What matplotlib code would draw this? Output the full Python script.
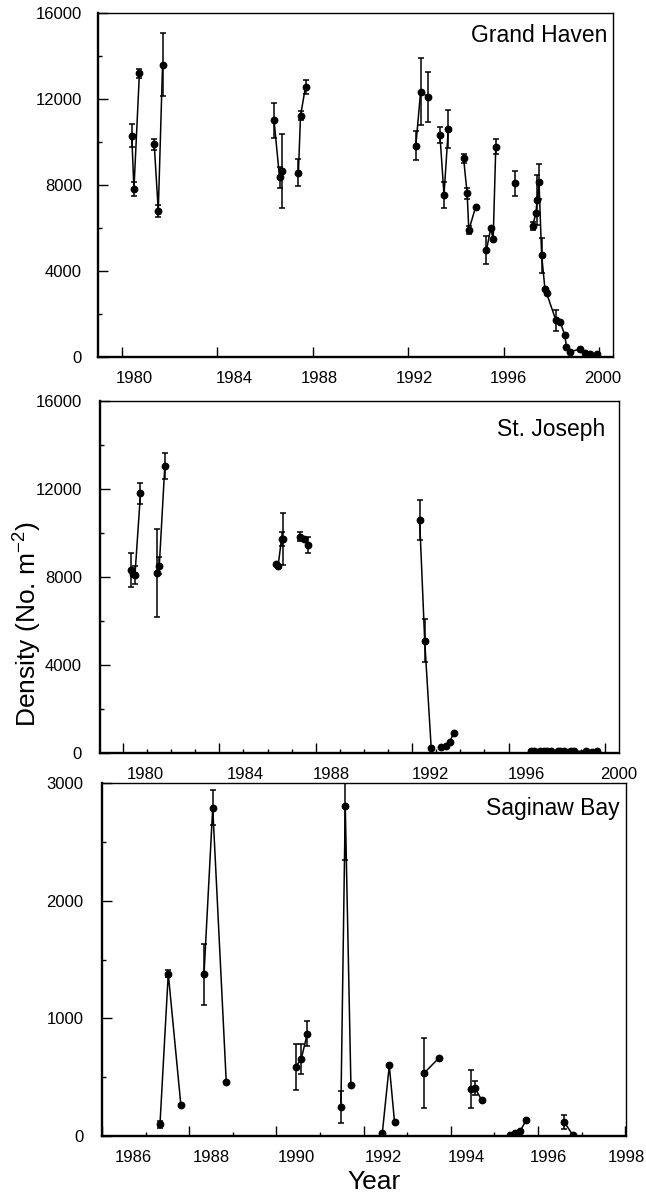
import numpy as np
import matplotlib
matplotlib.use('Agg')
import matplotlib.pyplot as plt
from matplotlib.ticker import MultipleLocator, FixedLocator

plt.rcParams['font.family'] = ['Liberation Sans', 'DejaVu Sans']
plt.rcParams['mathtext.fontset'] = 'custom'
plt.rcParams['mathtext.rm'] = 'Liberation Sans'
plt.rcParams['mathtext.it'] = 'Liberation Sans:italic'
plt.rcParams['mathtext.default'] = 'regular'

# ---------------- data ----------------
# Grand Haven (segments of connected sampling dates)
gh_years = [
    [1980.41, 1980.50, 1980.73],
    [1981.35, 1981.52, 1981.70],
    [1986.37, 1986.60, 1986.72],
    [1987.39, 1987.48, 1987.69],
    [1992.31, 1992.51, 1992.80],
    [1993.32, 1993.49, 1993.67],
    [1994.31, 1994.46, 1994.53, 1994.81],
    [1995.27, 1995.45, 1995.55, 1995.66],
    [1996.46],
    [1997.20, 1997.34, 1997.39, 1997.47, 1997.58, 1997.72, 1997.79, 1998.18,
     1998.35, 1998.55, 1998.62, 1998.76, 1999.18, 1999.39, 1999.60, 1999.88],
]
gh_density = [
    [10300, 7800, 13200],
    [9900, 6800, 13600],
    [11000, 8350, 8650],
    [8570, 11230, 12570],
    [9830, 12340, 12110],
    [10320, 7530, 10600],
    [9240, 7610, 5900, 6960],
    [4980, 5990, 5470, 9780],
    [8080],
    [6090, 6680, 7300, 8160, 4740, 3150, 2960, 1700,
     1650, 1020, 480, 250, 360, 200, 140, 140],
]
gh_err = [
    [550, 330, 200],
    [250, 280, 1480],
    [830, 500, 1700],
    [630, 230, 330],
    [660, 1550, 1160],
    [380, 620, 900],
    [200, 270, 200, 0],
    [660, 0, 0, 350],
    [570],
    [200, 0, 1150, 810, 810, 0, 0, 500,
     0, 0, 0, 0, 0, 0, 0, 0],
]

# St. Joseph
sj_years = [
    [1980.33, 1980.43, 1980.50, 1980.73],
    [1981.40, 1981.51, 1981.74],
    [1986.37, 1986.44, 1986.58, 1986.65],
    [1987.34, 1987.50, 1987.68],
    [1992.31, 1992.52, 1992.79],
    [1993.21, 1993.39, 1993.55, 1993.72],
    [1996.95, 1997.05, 1997.15, 1997.30, 1997.45, 1997.60, 1997.75, 1998.05,
     1998.15, 1998.30, 1998.45, 1998.60, 1998.72, 1999.22, 1999.45, 1999.66],
]
sj_density = [
    [8320, 8120, 8090, 11800],
    [8170, 8520, 13060],
    [8590, 8520, 9730, 9730],
    [9830, 9730, 9450],
    [10590, 5100, 210],
    [290, 320, 510, 890],
    [80, 100, 60, 90, 70, 110, 80, 90,
     70, 100, 60, 90, 70, 90, 60, 80],
]
sj_err = [
    [770, 0, 420, 480],
    [2000, 400, 590],
    [0, 0, 300, 1200],
    [200, 0, 350],
    [910, 980, 0],
    [0, 0, 0, 0],
    [0] * 16,
]

# Saginaw Bay
sb_years = [
    [1987.33, 1987.52, 1987.81],
    [1988.34, 1988.54, 1988.85],
    [1990.44, 1990.57, 1990.71],
    [1991.48, 1991.58, 1991.71],
    [1992.43, 1992.59, 1992.71],
    [1993.39, 1993.72],
    [1994.47, 1994.56, 1994.71],
    [1995.35, 1995.48, 1995.59, 1995.73],
    [1996.60, 1996.80],
]
sb_density = [
    [100, 1380, 260],
    [1375, 2790, 460],
    [585, 655, 870],
    [245, 2805, 430],
    [25, 600, 120],
    [535, 660],
    [400, 405, 305],
    [10, 25, 40, 135],
    [120, 8],
]
sb_err = [
    [30, 30, 0],
    [260, 150, 0],
    [195, 130, 105],
    [135, 460, 0],
    [0, 0, 0],
    [300, 0],
    [160, 60, 0],
    [0, 0, 0, 0],
    [60, 0],
]

site_names = ['Grand Haven', 'St. Joseph', 'Saginaw Bay']
gh_xticklabels = ['1980', '1984', '1988', '1992', '1996', '2000']
sj_xticklabels = ['1980', '1984', '1988', '1992', '1996', '2000']
sb_xticklabels = ['1986', '1988', '1990', '1992', '1994', '1996', '1998']
gh_yticks = [0, 4000, 8000, 12000, 16000]
sj_yticks = [0, 4000, 8000, 12000, 16000]
sb_yticks = [0, 1000, 2000, 3000]

# ---------------- layout ----------------
W, H = 646, 1197
fig = plt.figure(figsize=(W / 100, H / 100), dpi=100)


def px_axes(l, t, r, b):
    return fig.add_axes([l / W, 1 - b / H, (r - l) / W, (b - t) / H])


panels = [
    dict(box=(98, 13, 613, 357), xlim=(1978.995, 2000.57), ylim=(0, 16000),
         xmajor=4, xminor=None, yminor=2000, yticks=gh_yticks,
         lab_pos=[1980.50, 1984.69, 1988.25, 1992.27, 1996.17, 2000.15],
         labels=gh_xticklabels, data=(gh_years, gh_density, gh_err),
         name_xy=(0.99, 0.936), ypad=11.5),
    dict(box=(100, 401, 619, 753), xlim=(1979.05, 2000.58), ylim=(0, 16000),
         xmajor=4, xminor=1, yminor=2000, yticks=sj_yticks,
         lab_pos=[1980.95, 1985.06, 1988.66, 1992.77, 1996.75, 2000.56],
         labels=sj_xticklabels, data=(sj_years, sj_density, sj_err),
         name_xy=(0.973, 0.920), ypad=13),
    dict(box=(102, 783, 626, 1136), xlim=(1986.0, 1998.02), ylim=(0, 3000),
         xmajor=2, xminor=1, yminor=500, yticks=sb_yticks,
         lab_pos=[1986.71, 1988.50, 1990.47, 1992.45, 1994.35, 1996.23, 1998.02],
         labels=sb_xticklabels, data=(sb_years, sb_density, sb_err),
         name_xy=(0.987, 0.929), ypad=13.5),
]

for p, name in zip(panels, site_names):
    ax = px_axes(*p['box'])
    ax.set_xlim(*p['xlim'])
    ax.set_ylim(*p['ylim'])
    years, dens, errs = p['data']
    for x, y, e in zip(years, dens, errs):
        x = np.asarray(x, float)
        y = np.asarray(y, float)
        e = np.asarray(e, float)
        ax.plot(x, y, color='k', lw=1.1, marker='o', ms=4.6,
                mfc='k', mec='k', zorder=3, clip_on=True)
        m = e > 0
        if m.any():
            ax.errorbar(x[m], y[m], yerr=e[m], fmt='none', ecolor='k',
                        elinewidth=1.1, capsize=2.4, capthick=1.1, zorder=2)

    ax.xaxis.set_major_locator(MultipleLocator(p['xmajor']))
    if p['xminor']:
        ax.xaxis.set_minor_locator(MultipleLocator(p['xminor']))
    ax.yaxis.set_major_locator(FixedLocator(p['yticks']))
    ax.yaxis.set_minor_locator(MultipleLocator(p['yminor']))
    ax.tick_params(which='both', direction='in', top=False, right=False,
                   labelsize=12, width=1.0)
    ax.tick_params(which='major', length=7)
    ax.tick_params(which='minor', length=3)
    ax.tick_params(axis='x', labelbottom=False)
    ax.tick_params(axis='y', pad=p['ypad'])
    ax.set_yticklabels([str(v) for v in p['yticks']])

    sec = ax.secondary_xaxis('bottom')
    sec.set_xticks(p['lab_pos'], labels=p['labels'])
    sec.tick_params(length=0, pad=10, labelsize=12)
    sec.spines['bottom'].set_visible(False)

    for s in ['left', 'bottom']:
        ax.spines[s].set_linewidth(1.7)
    for s in ['top', 'right']:
        ax.spines[s].set_linewidth(1.0)

    ax.text(p['name_xy'][0], p['name_xy'][1], name, transform=ax.transAxes,
            ha='right', va='center', fontsize=16.5)

fig.text(28 / W, 1 - 624 / H, 'Density (No. m$^{-2}$)', rotation=90,
         ha='center', va='center', fontsize=19)
fig.text(374 / W, 1 - 1182 / H, 'Year', ha='center', va='center', fontsize=19)

fig.savefig('out.png', dpi=100)
